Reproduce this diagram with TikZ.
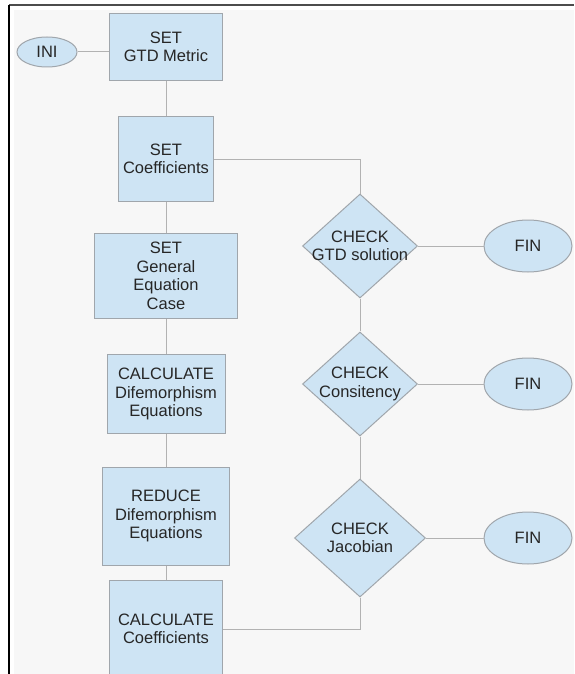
\documentclass[tikz,border=0pt]{standalone}
\usepackage{fontspec}
\setmainfont{Liberation Sans}
\usetikzlibrary{shapes.geometric}
\definecolor{boxblue}{RGB}{206,228,244}
\definecolor{edgegray}{RGB}{160,166,172}
\definecolor{linegray}{RGB}{178,178,178}
\definecolor{paper}{RGB}{247,247,247}
\begin{document}
\begin{tikzpicture}[x=1pt,y=-1pt,
    every node/.style={font=\fontsize{16.5}{18.5}\selectfont, align=center, inner sep=0pt, text=black!85},
    stepbox/.style={rectangle, draw=edgegray, fill=boxblue, line width=1pt},
    check/.style={diamond, draw=edgegray, fill=boxblue, line width=1pt},
    term/.style={ellipse, draw=edgegray, fill=boxblue, line width=1pt},
    link/.style={draw=linegray, line width=1pt}]
    \clip (0,0) rectangle (574,674);
    \fill[white] (0,0) rectangle (574,674);
    \fill[paper] (14,10) rectangle (574,674);
    \draw[black!70, line width=1.5pt] (9,5) -- (574,5);
    \draw[black, line width=1.5pt] (9,5) -- (9,674);

    \node[term, minimum width=60pt, minimum height=30pt] (ini) at (47,52) {INI};
    \node[stepbox, minimum width=113pt, minimum height=67pt] (gtd) at (166,47) {SET\\GTD Metric};
    \node[stepbox, minimum width=95pt, minimum height=85pt] (coef) at (166,159) {SET\\Coefficients};
    \node[stepbox, minimum width=143pt, minimum height=85pt] (gen) at (166,276) {SET\\General\\Equation\\Case};
    \node[stepbox, minimum width=118pt, minimum height=79pt] (calcd) at (166,394) {CALCULATE\\Difemorphism\\Equations};
    \node[stepbox, minimum width=127pt, minimum height=98pt] (red) at (166,516) {REDUCE\\Difemorphism\\Equations};
    \node[stepbox, minimum width=113pt, minimum height=98pt] (calcc) at (166,629) {CALCULATE\\Coefficients};

    \node[check, minimum width=115pt, minimum height=104pt, label={center:CHECK\\GTD solution}] (sol) at (360,246) {};
    \node[check, minimum width=115pt, minimum height=104pt, label={center:CHECK\\Consitency}] (cons) at (360,384) {};
    \node[check, minimum width=131pt, minimum height=118pt, label={center:CHECK\\Jacobian}] (jac) at (360,538) {};

    \node[term, minimum width=88pt, minimum height=52pt] (fina) at (528,246) {FIN};
    \node[term, minimum width=88pt, minimum height=52pt] (finb) at (528,384) {FIN};
    \node[term, minimum width=88pt, minimum height=52pt] (finc) at (528,538) {FIN};

    \path[link] (ini) to (ini -| gtd.west);
    \path[link] (gtd) to (coef) (coef) to (gen) (gen) to (calcd) (calcd) to (red) (red) to (calcc);
    \path[link] (coef.east) -| (sol.north);
    \path[link] (sol) to (cons) (cons) to (jac);
    \path[link] (sol) to (fina) (cons) to (finb) (jac) to (finc);
    \path[link] (jac.south) |- (calcc.east);
\end{tikzpicture}
\end{document}
